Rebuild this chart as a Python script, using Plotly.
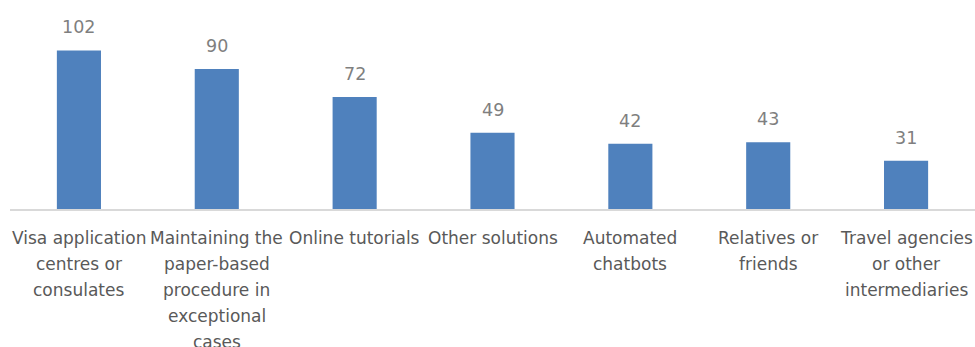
import plotly.graph_objects as go

categories = [
    "Visa application centres or consulates",
    "Maintaining the paper-based procedure in exceptional cases",
    "Online tutorials",
    "Other solutions",
    "Automated chatbots",
    "Relatives or friends",
    "Travel agencies or other intermediaries",
]
label_lines = [
    ["Visa application", "centres or", "consulates"],
    ["Maintaining the", "paper-based", "procedure in", "exceptional", "cases"],
    ["Online tutorials"],
    ["Other solutions"],
    ["Automated", "chatbots"],
    ["Relatives or", "friends"],
    ["Travel agencies", "or other", "intermediaries"],
]
values = [102, 90, 72, 49, 42, 43, 31]

FONT = "DejaVu Sans"
fig = go.Figure(go.Bar(
    x=categories, y=values,
    marker=dict(color="#4f81bd", line=dict(width=0)),
    width=0.32,
    hoverinfo="skip",
))

annotations = []
for c, v in zip(categories, values):
    annotations.append(dict(
        x=c, y=v, xref="x", yref="y", text=str(v), showarrow=False,
        yanchor="middle", yshift=23,
        font=dict(family=FONT, size=17.5, color="#7f7f7f"),
    ))
for c, lines in zip(categories, label_lines):
    for i, ln in enumerate(lines):
        annotations.append(dict(
            x=c, y=0, xref="x", yref="y", text=ln, showarrow=False,
            yanchor="middle", yshift=-29 - 26 * i,
            font=dict(family=FONT, size=17, color="#595959"),
        ))

fig.update_layout(
    width=975, height=347,
    margin=dict(l=10, r=0, t=10, b=137.5),
    paper_bgcolor="white", plot_bgcolor="white",
    showlegend=False,
    hovermode=False, dragmode=False,
    xaxis=dict(showticklabels=False, showgrid=False, zeroline=False,
               showline=True, linecolor="#d9d9d9", linewidth=1.5,
               range=[-0.5, 6.5], fixedrange=True),
    yaxis=dict(visible=False, range=[0, 128], fixedrange=True),
    annotations=annotations,
)
fig.write_html(
    "out.html",
    config={"displayModeBar": False, "staticPlot": True},
    post_script="document.body.style.margin='0';document.body.style.overflow='hidden';",
)
